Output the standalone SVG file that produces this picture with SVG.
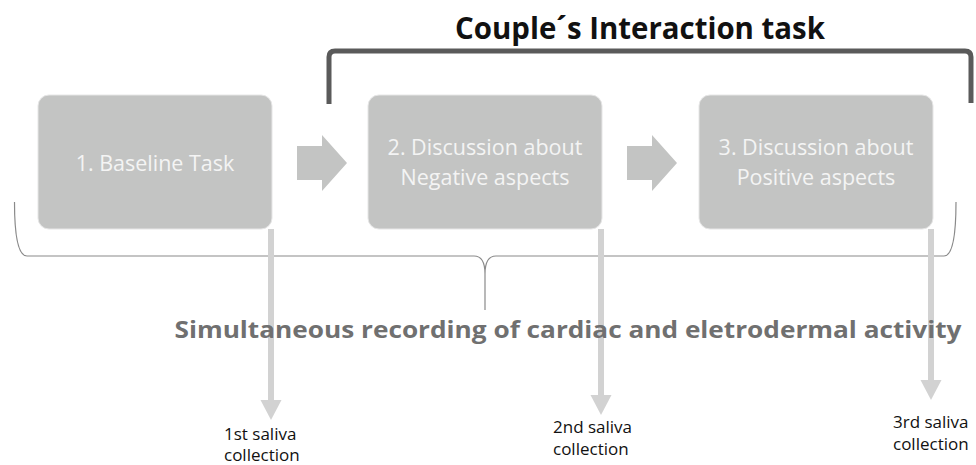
<svg xmlns="http://www.w3.org/2000/svg" width="976" height="465" viewBox="0 0 976 465">
<style>
.box{fill:#c3c4c3;stroke:#e6e6e6;stroke-width:1}
.btxt{font-family:"Open Sans","Liberation Sans",sans-serif;font-size:21.5px;fill:#f4f4f4;text-anchor:middle}
.flow{fill:#c3c4c3}
.sal{stroke:#d2d2d2;stroke-width:6;fill:none}
.salh{fill:#d2d2d2}
.lbl{font-family:"Open Sans","Liberation Sans",sans-serif;font-size:17px;fill:#111}
</style>
<rect width="976" height="465" fill="#fff"/>
<g id="title">
<text x="640" y="39" font-family="'Open Sans','Liberation Sans',sans-serif" font-weight="bold" font-size="30" fill="#111" text-anchor="middle" textLength="370" lengthAdjust="spacingAndGlyphs">Couple´s Interaction task</text>
</g>
<g id="connectors">
<path d="M329,104 L329,57 Q329,51 335,51 L965,51 Q971,51 971,57 L971,103" fill="none" stroke="#5a5a5a" stroke-width="5"/>
<path d="M14.5,202 Q14.5,256 27,256 L474,256 Q485,256 485,274 L485,310 M485,274 Q485,256 496,256 L944,256 Q956,256 956,202" fill="none" stroke="#8a8a8a" stroke-width="1.2"/>
<path class="flow" d="M297,146 L322,146 L322,135 L347,163 L322,191 L322,180 L297,180 Z"/>
<path class="flow" d="M627,146 L652,146 L652,135 L677,163 L652,191 L652,180 L627,180 Z"/>
<line class="sal" x1="271" y1="229" x2="271" y2="402"/>
<path class="salh" d="M260.5,400 L281.5,400 L271,420 Z"/>
<line class="sal" x1="601" y1="229" x2="601" y2="397"/>
<path class="salh" d="M590.5,395 L611.5,395 L601,415 Z"/>
<line class="sal" x1="931" y1="229" x2="931" y2="382"/>
<path class="salh" d="M920.5,380 L941.5,380 L931,400 Z"/>
</g>
<g id="node1">
<rect class="box" x="38" y="95" width="234" height="134" rx="11"/>
<text class="btxt" x="155" y="171" font-size="23">1. Baseline Task</text>
</g>
<g id="node2">
<rect class="box" x="368" y="95" width="234" height="134" rx="11"/>
<text class="btxt"><tspan x="485" y="155">2. Discussion about</tspan><tspan x="485" y="185">Negative aspects</tspan></text>
</g>
<g id="node3">
<rect class="box" x="699" y="95" width="234" height="134" rx="11"/>
<text class="btxt"><tspan x="816" y="155">3. Discussion about</tspan><tspan x="816" y="185">Positive aspects</tspan></text>
</g>
<g id="recording">
<text x="568" y="338" font-family="'Open Sans','Liberation Sans',sans-serif" font-weight="bold" font-size="24" fill="#707070" text-anchor="middle" textLength="787" lengthAdjust="spacingAndGlyphs">Simultaneous recording of cardiac and eletrodermal activity</text>
</g>
<g id="saliva1">
<text class="lbl"><tspan x="224" y="440">1st saliva</tspan><tspan x="224" y="461">collection</tspan></text>
</g>
<g id="saliva2">
<text class="lbl"><tspan x="553" y="433">2nd saliva</tspan><tspan x="553" y="455">collection</tspan></text>
</g>
<g id="saliva3">
<text class="lbl"><tspan x="893" y="428">3rd saliva</tspan><tspan x="893" y="450">collection</tspan></text>
</g>
</svg>
